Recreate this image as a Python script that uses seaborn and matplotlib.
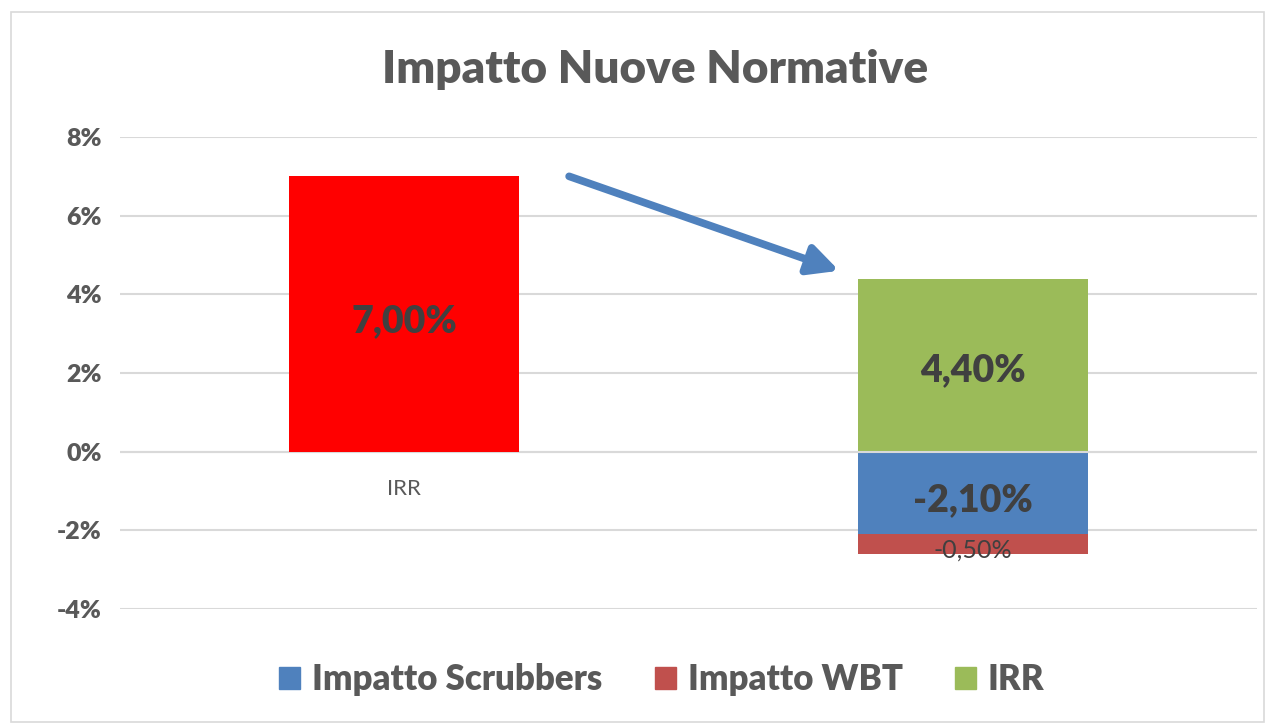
import matplotlib
matplotlib.use("Agg")
import matplotlib.pyplot as plt
from matplotlib.patches import Patch, Rectangle
import seaborn as sns
import pandas as pd

# ---- data ----
categories = ["IRR", " "]
irr_before = [7.0, None]
irr_after = [None, 4.4]
impatto_scrubbers = [None, -2.1]
impatto_wbt = [None, -0.5]
series_names = ["Impatto Scrubbers", "Impatto WBT", "IRR"]
y_ticks = [-4, -2, 0, 2, 4, 6, 8]
title = "Impatto Nuove Normative"

# ---- style ----
sns.set_theme(style="white")
plt.rcParams["font.family"] = ["Lato", "DejaVu Sans"]
TXT = "#595959"
LBL = "#404040"
C_RED = "#FF0000"
C_BLUE = "#4F81BD"
C_WBT = "#C0504D"
C_GREEN = "#9BBB59"
BW = 0.405

fig = plt.figure(figsize=(12.75, 7.26), dpi=100)
ax = fig.add_axes([120/1275, 1-609/726, (1257-120)/1275, (609-137)/726])

# gridlines
ax.set_ylim(-4, 8)
ax.set_yticks(y_ticks)
ax.yaxis.grid(True, color="#d9d9d9", linewidth=1.5)
ax.set_axisbelow(True)
for s in ax.spines.values():
    s.set_visible(False)

# bars
wbt_total = [None, impatto_scrubbers[1] + impatto_wbt[1]]
df = pd.DataFrame({"cat": categories, "before": irr_before, "after": irr_after,
                   "scr": impatto_scrubbers, "wbt_total": wbt_total})
sns.barplot(data=df, x="cat", y="before", order=categories, color=C_RED,
            width=BW, saturation=1, ax=ax, linewidth=0)
sns.barplot(data=df, x="cat", y="after", order=categories, color=C_GREEN,
            width=BW, saturation=1, ax=ax, linewidth=0)
sns.barplot(data=df, x="cat", y="wbt_total", order=categories, color=C_WBT,
            width=BW, saturation=1, ax=ax, linewidth=0)
sns.barplot(data=df, x="cat", y="scr", order=categories, color=C_BLUE,
            width=BW, saturation=1, ax=ax, linewidth=0)
ax.axhline(0, color="#d9d9d9", linewidth=1.5, zorder=0)
ax.plot([1 - BW/2, 1 + BW/2], [0, 0], color="#d9d9d9", linewidth=1.5, zorder=3)

ax.set_xlim(-0.5, 1.5)
ax.set_xlabel("")
ax.set_ylabel("")
ax.set_yticklabels([f"{t}%" for t in y_ticks], fontsize=18, fontweight="heavy", color=TXT)
ax.tick_params(axis="y", length=0, pad=13)
ax.set_xticks([])
# category label under first bar
ax.text(0, -0.95, categories[0], ha="center", va="center", fontsize=16, color=TXT)

def fmt(v):
    return f"{v:.2f}%".replace(".", ",")

# data labels
ax.text(0, irr_before[0]/2 - 0.1, fmt(irr_before[0]), ha="center", va="center_baseline",
        fontsize=27, fontweight="heavy", color=LBL)
ax.text(1, irr_after[1]/2 - 0.05, fmt(irr_after[1]), ha="center", va="center_baseline",
        fontsize=27, fontweight="heavy", color=LBL)
ax.text(1, impatto_scrubbers[1]/2 - 0.1, fmt(impatto_scrubbers[1]), ha="center", va="center_baseline",
        fontsize=27, fontweight="heavy", color=LBL)
ax.text(1, wbt_total[1] + 0.15, fmt(impatto_wbt[1]), ha="center", va="center_baseline",
        fontsize=18, color=LBL, zorder=5)

# arrow
arrow_tail = (0.29, 7.0)
arrow_head = (0.765, 4.6)
ax.annotate("", xy=arrow_head, xytext=arrow_tail,
            arrowprops=dict(arrowstyle="-|>,head_length=1.5,head_width=0.75",
                            color=C_BLUE, lw=5.5, shrinkA=0, shrinkB=0))

# title
fig.text(655/1275, 1-70/726, title, ha="center", va="center",
         fontsize=33, fontweight="heavy", color=TXT)

# legend
handles = [Patch(color=C_BLUE), Patch(color=C_WBT), Patch(color=C_GREEN)]
fig.legend(handles, series_names, loc="center", bbox_to_anchor=(662/1275, 1-680/726),
           ncol=3, frameon=False, prop={"size": 25, "weight": "heavy"},
           labelcolor=TXT, handlelength=0.6, handleheight=0.6, handletextpad=0.35,
           columnspacing=1.5)

# chart border
fig.patches.append(Rectangle((11/1275, 0.005), 1-22/1275, 1-16/726, transform=fig.transFigure,
                             fill=False, edgecolor="#d9d9d9", linewidth=1.2))

fig.savefig("out.png", dpi=100)
